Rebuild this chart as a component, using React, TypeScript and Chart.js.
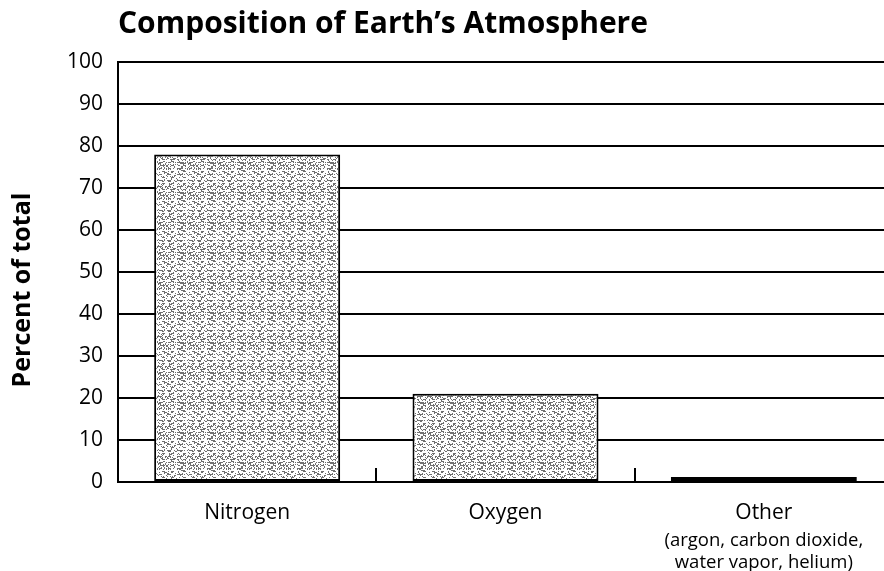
import React, { useEffect, useRef } from "react";
import { Chart, registerables } from "chart.js";

Chart.register(...registerables);

const titleText = "Composition of Earth\u2019s Atmosphere";
const yAxisTitle = "Percent of total";
const categories = ["Nitrogen", "Oxygen", "Other"];
const subLabels: string[][] = [[], [], ["(argon, carbon dioxide,", "water vapor, helium)"]];
const percentValues = [78, 21, 1.2];
const yMin = 0;
const yMax = 100;
const yStep = 10;

function makePattern(): CanvasPattern | string {
  const tile = document.createElement("canvas");
  tile.width = 30;
  tile.height = 30;
  const c = tile.getContext("2d");
  if (!c) return "#cfcfcf";
  c.fillStyle = "#ffffff";
  c.fillRect(0, 0, 30, 30);
  c.fillStyle = "#707070";
  for (let y = 0; y < 30; y++) {
    for (let x = 0; x < 30; x++) {
      const h = (x * 37 + y * 61 + ((x * y) % 7) * 17 + ((x + 3 * y) % 5) * 11) % 31;
      if (h < 7) c.fillRect(x, y, 1, 1);
    }
    if (y % 3 === 0) {
      for (let x = (y * 7) % 6; x < 30; x += 9) c.fillRect(x, y, 3, 1);
    }
  }
  const p = c.createPattern(tile, "repeat");
  return p || "#cfcfcf";
}

export default function App() {
  const ref = useRef<HTMLCanvasElement>(null);
  useEffect(() => {
    document.body.style.margin = "0";
    const canvas = ref.current;
    if (!canvas) return;
    const pattern = makePattern();

    const decor = {
      id: "decor",
      afterDraw(chart: any) {
        const ctx = chart.ctx;
        const xs = chart.scales.x;
        const area = chart.chartArea;
        ctx.save();
        // title
        ctx.fillStyle = "#000";
        ctx.font = "bold 30px 'Open Sans'";
        ctx.textAlign = "left";
        ctx.textBaseline = "alphabetic";
        ctx.fillText(titleText, area.left, 33);
        // y-axis title
        ctx.translate(23, 290);
        ctx.rotate(-Math.PI / 2);
        ctx.font = "bold 25px 'Open Sans'";
        ctx.textAlign = "center";
        ctx.textBaseline = "middle";
        ctx.fillText(yAxisTitle, 0, 0);
        ctx.restore();
        // separator ticks
        ctx.save();
        ctx.strokeStyle = "#000";
        ctx.lineWidth = 2;
        for (let i = 0; i < categories.length - 1; i++) {
          const px = Math.round((xs.getPixelForValue(i) + xs.getPixelForValue(i + 1)) / 2);
          ctx.beginPath();
          ctx.moveTo(px, area.bottom);
          ctx.lineTo(px, area.bottom - 14);
          ctx.stroke();
        }
        // sub labels
        ctx.fillStyle = "#000";
        ctx.font = "18.5px 'Open Sans'";
        ctx.textAlign = "center";
        ctx.textBaseline = "middle";
        subLabels.forEach((lines, i) => {
          const cx = xs.getPixelForValue(i);
          lines.forEach((ln, j) => ctx.fillText(ln, cx, area.bottom + 59 + j * 22));
        });
        ctx.restore();
      },
    };

    const chart = new Chart(canvas, {
      type: "bar",
      data: {
        labels: categories,
        datasets: [
          {
            data: percentValues,
            backgroundColor: pattern as any,
            borderColor: "#000",
            borderWidth: 2,
            borderSkipped: false,
            barPercentage: 0.72,
            categoryPercentage: 1,
          },
        ],
      },
      options: {
        animation: false,
        responsive: false,
        maintainAspectRatio: false,
        layout: { padding: { top: 62, right: 0, left: 0, bottom: 0 } },
        plugins: { legend: { display: false }, tooltip: { enabled: false }, title: { display: false } },
        scales: {
          x: {
            grid: { display: false, drawTicks: false },
            border: { display: true, color: "#000", width: 2 },
            ticks: { color: "#000", font: { family: "'Open Sans'", size: 21 }, padding: 18 },
            afterFit: (s: any) => {
              s.height = 89;
            },
          },
          y: {
            min: yMin,
            max: yMax,
            ticks: { stepSize: yStep, color: "#000", font: { family: "'Open Sans'", size: 21 }, padding: 15 },
            grid: { color: "#000", lineWidth: 2, drawTicks: false },
            border: { display: true, color: "#000", width: 2 },
            afterFit: (s: any) => {
              s.width = 118;
            },
          },
        },
      },
      plugins: [decor],
    });
    return () => chart.destroy();
  }, []);
  return (
    <div style={{ width: 884, height: 571, overflow: "hidden" }}>
      <canvas ref={ref} width={893} height={571} style={{ display: "block" }} />
    </div>
  );
}
